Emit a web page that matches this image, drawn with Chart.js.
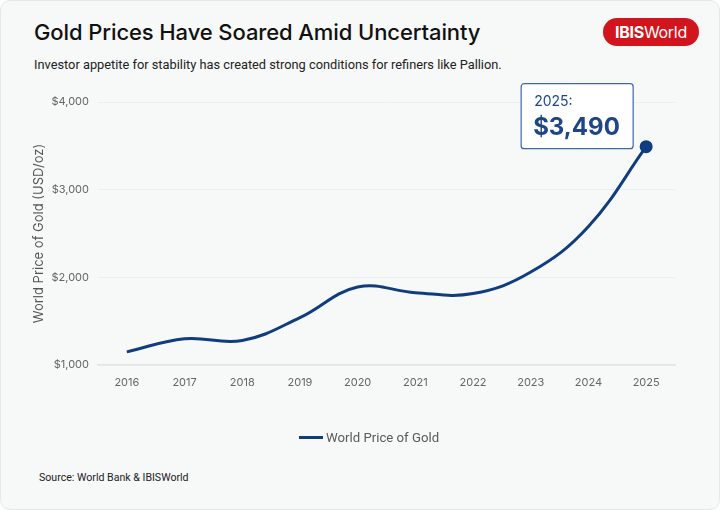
<!DOCTYPE html>
<html>
<head>
<meta charset="utf-8">
<script src="https://cdn.jsdelivr.net/npm/chart.js@4/dist/chart.umd.min.js"></script>
<style>
    html, body { margin: 0; padding: 0; background: #ffffff; }
    #card {
        position: relative; width: 718px; height: 508px;
        background: #f7f8f8; border: 1px solid #e6e8e8; border-radius: 10px;
        overflow: hidden; font-family: Inter, "Noto Sans", sans-serif;
    }
    #title { position: absolute; left: 33px; top: 18px; font-size: 22px; font-weight: 500; color: #111; letter-spacing: -0.1px; }
    #subtitle { position: absolute; left: 33px; top: 56px; font-family: Roboto, sans-serif; font-size: 12.8px; color: #222; }
    #logo {
        position: absolute; left: 602px; top: 17px; width: 96px; height: 28px;
        background: #d2151c; border-radius: 14px; color: #fff;
        font-size: 16px; line-height: 28px; text-align: center; letter-spacing: -0.3px;
    }
    #logo b { font-weight: 700; }
    #source { position: absolute; left: 38px; top: 470px; font-family: Roboto, sans-serif; font-size: 10.6px; color: #222; }
    #wrap { position: absolute; left: 0; top: 80px; width: 720px; height: 380px; }
    #legend { position: absolute; left: 298px; top: 428px; height: 18px; font-family: Roboto, sans-serif; font-size: 13.2px; color: #5a5a5a; line-height: 18px; }
    #legend span.sw { display: inline-block; width: 24px; height: 3px; vertical-align: middle; margin-right: 3px; position: relative; top: -1px; }
</style>
</head>
<body>
<div id="card">
    <div id="title">Gold Prices Have Soared Amid Uncertainty</div>
    <div id="subtitle">Investor appetite for stability has created strong conditions for refiners like Pallion.</div>
    <div id="logo"><b>IBIS</b>World</div>
    <div id="wrap"><canvas id="goldChart"></canvas></div>
    <div id="legend"></div>
    <div id="source">Source: World Bank &amp; IBISWorld</div>
</div>
<script>
    // data
    var years = ['2016', '2017', '2018', '2019', '2020', '2021', '2022', '2023', '2024', '2025'];
    var goldPrice = [1150, 1300, 1280, 1540, 1890, 1825, 1815, 2060, 2580, 3490];
    var yTicks = [1000, 2000, 3000, 4000];
    var seriesName = 'World Price of Gold';
    var lineColor = '#0f3d7f';

    // label box for the last point
    var lastLabel = {
        id: 'lastLabel',
        afterDatasetsDraw: function (chart) {
            var meta = chart.getDatasetMeta(0);
            var pt = meta.data[meta.data.length - 1];
            var ctx = chart.ctx;
            var w = 112, h = 65;
            var x = pt.x - 125, y = pt.y - 63;
            ctx.save();
            ctx.fillStyle = '#ffffff';
            ctx.strokeStyle = '#3e67a6';
            ctx.lineWidth = 1.2;
            ctx.beginPath();
            ctx.roundRect(x, y, w, h, 3);
            ctx.fill();
            ctx.stroke();
            ctx.fillStyle = '#1d4588';
            ctx.textBaseline = 'alphabetic';
            ctx.font = '14px Inter, sans-serif';
            ctx.fillText(years[years.length - 1] + ':', x + 13, y + 22);
            ctx.font = 'bold 24px Inter, sans-serif';
            ctx.fillText('$' + goldPrice[goldPrice.length - 1].toLocaleString('en-US'), x + 12, y + 51);
            ctx.restore();
        }
    };

    var ctx = document.getElementById('goldChart').getContext('2d');
    var chart = new Chart(ctx, {
        type: 'line',
        data: {
            labels: years,
            datasets: [{
                label: seriesName,
                data: goldPrice,
                borderColor: lineColor,
                backgroundColor: lineColor,
                borderWidth: 3,
                tension: 0.4,
                pointRadius: goldPrice.map(function (v, i) { return i === goldPrice.length - 1 ? 5 : 0; }),
                pointHoverRadius: 0
            }]
        },
        options: {
            responsive: true,
            maintainAspectRatio: false,
            animation: false,
            layout: { padding: { left: 30, right: 46, top: 21, bottom: 0 } },
            plugins: {
                tooltip: { enabled: false },
                legend: { display: false }
            },
            scales: {
                x: {
                    offset: true,
                    grid: { display: false },
                    border: { display: true, color: '#e3e5e6', width: 1.5 },
                    ticks: { color: '#666', font: { family: 'Inter', size: 11 }, padding: 3 },
                    afterFit: function (scale) { scale.height = 96; }
                },
                y: {
                    min: 1000, max: 4000,
                    afterBuildTicks: function (scale) {
                        scale.ticks = yTicks.map(function (v) { return { value: v }; });
                    },
                    grid: { color: '#eceeef', drawTicks: false },
                    border: { display: false },
                    ticks: {
                        color: '#666', font: { family: 'Inter', size: 11 }, padding: 9,
                        callback: function (v) { return '$' + v.toLocaleString('en-US'); }
                    },
                    title: {
                        display: true, text: 'World Price of Gold (USD/oz)',
                        color: '#555', font: { family: 'Inter', size: 13 }, padding: 0
                    },
                    afterFit: function (scale) { scale.width = 67; }
                }
            }
        },
        plugins: [lastLabel]
    });

    // legend as plain html, built from the dataset
    var ds = chart.data.datasets[0];
    document.getElementById('legend').innerHTML =
        '<span class="sw" style="background:' + ds.borderColor + '"></span>' + ds.label;
</script>
</body>
</html>
